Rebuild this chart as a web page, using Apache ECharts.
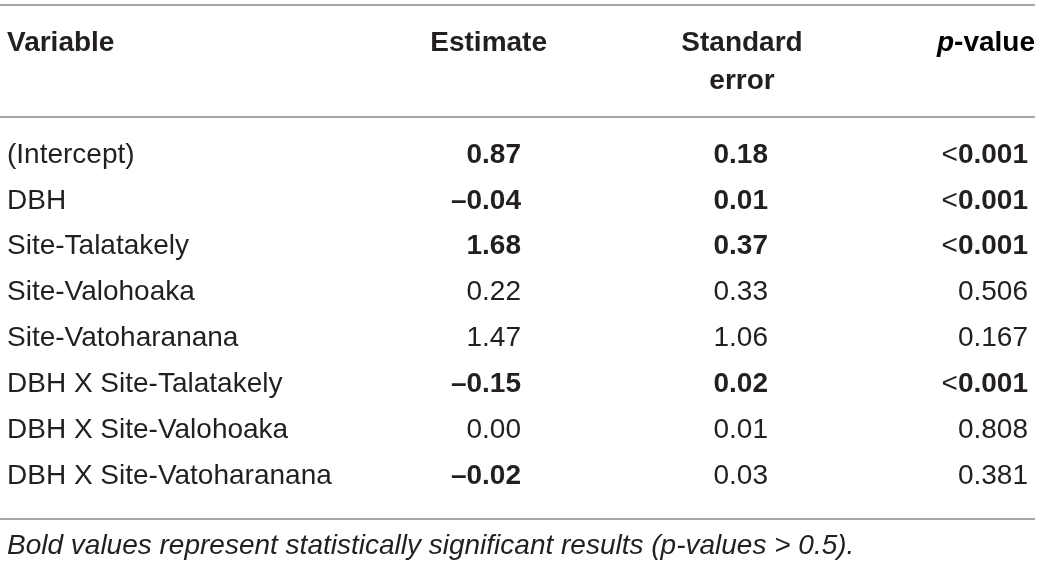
<!DOCTYPE html>
<html>
<head>
<meta charset="utf-8">
<script src="https://cdn.jsdelivr.net/npm/echarts@6/dist/echarts.min.js"></script>
<style>
  html, body { margin: 0; padding: 0; background: #fff; }
  #main { width: 1043px; height: 567px; }
</style>
</head>
<body>
<div id="main"></div>
<script>
// table content
const variables = [
  '(Intercept)', 'DBH', 'Site-Talatakely', 'Site-Valohoaka', 'Site-Vatoharanana',
  'DBH X Site-Talatakely', 'DBH X Site-Valohoaka', 'DBH X Site-Vatoharanana'
]
const estimates = [0.87, -0.04, 1.68, 0.22, 1.47, -0.15, 0.00, -0.02]
const stdErrors = [0.18, 0.01, 0.37, 0.33, 1.06, 0.02, 0.01, 0.03]
const pValues = ['<0.001', '<0.001', '<0.001', '0.506', '0.167', '<0.001', '0.808', '0.381']
const estBold = [true, true, true, false, false, true, false, true]
const seBold = [true, true, true, false, false, true, false, false]
const pBold = [true, true, true, false, false, true, false, false]
const headers = ['Variable', 'Estimate', 'Standard\nerror', 'p-value']
const footnote = 'Bold values represent statistically significant results (p-values > 0.5).'

const FONT = "'Liberation Sans', Arial, Helvetica, sans-serif"
const INK = '#231f20'
const RULE = '#8a8a8a'
const SIZE = 28

const fmt = v => v.toFixed(2).replace('-', '\u2013')

const myChart = echarts.init(document.getElementById('main'))

const rich = {
  r: { fontFamily: FONT, fontSize: SIZE, fontWeight: 'normal', color: INK },
  b: { fontFamily: FONT, fontSize: SIZE, fontWeight: 'bold', color: INK }
}

// wrap a cell value in the right rich style, "<" stays regular
const cell = (txt, bold) => {
  if (!bold) return '{r|' + txt + '}'
  if (txt.charAt(0) === '<') return '{r|<}{b|' + txt.slice(1) + '}'
  return '{b|' + txt + '}'
}

const textEl = (x, y, txt, align) => ({
  type: 'text',
  x: x,
  y: y,
  style: { text: txt, rich: rich, align: align, verticalAlign: 'middle', fill: INK }
})

const option = {
  animation: false,
  grid: { left: 0, right: 0, top: 132, height: 367 },
  xAxis: { type: 'value', min: 0, max: 1043, show: false },
  yAxis: {
    type: 'category',
    data: variables,
    inverse: true,
    show: false
  },
  series: [{
    type: 'custom',
    data: variables.map((v, i) => [i]),
    encode: { y: 0 },
    renderItem: (params, api) => {
      const i = api.value(0)
      const y = api.coord([0, i])[1]
      return {
        type: 'group',
        children: [
          textEl(api.coord([7, i])[0], y, cell(variables[i], false), 'left'),
          textEl(api.coord([521, i])[0], y, cell(fmt(estimates[i]), estBold[i]), 'right'),
          textEl(api.coord([768, i])[0], y, cell(fmt(stdErrors[i]), seBold[i]), 'right'),
          textEl(api.coord([1028, i])[0], y, cell(pValues[i], pBold[i]), 'right')
        ]
      }
    }
  }],
  graphic: [
    { type: 'line', shape: { x1: 0, y1: 5, x2: 1035, y2: 5 }, style: { stroke: RULE, lineWidth: 1.5 } },
    { type: 'line', shape: { x1: 0, y1: 117, x2: 1035, y2: 117 }, style: { stroke: RULE, lineWidth: 1.5 } },
    { type: 'line', shape: { x1: 0, y1: 519, x2: 1035, y2: 519 }, style: { stroke: RULE, lineWidth: 1.5 } },
    { type: 'text', x: 7, y: 43, style: { text: headers[0], font: 'bold ' + SIZE + 'px ' + FONT, fill: INK, verticalAlign: 'middle', align: 'left' } },
    { type: 'text', x: 547, y: 43, style: { text: headers[1], font: 'bold ' + SIZE + 'px ' + FONT, fill: INK, verticalAlign: 'middle', align: 'right' } },
    { type: 'text', x: 742, y: 62, style: { text: headers[2], font: 'bold ' + SIZE + 'px ' + FONT, fill: INK, verticalAlign: 'middle', align: 'center', lineHeight: 38 } },
    {
      type: 'text', x: 1035, y: 43,
      style: {
        text: '{i|p}{n|-value}',
        align: 'right', verticalAlign: 'middle',
        rich: {
          i: { fontFamily: FONT, fontSize: SIZE, fontWeight: 'bold', fontStyle: 'italic', color: INK },
          n: { fontFamily: FONT, fontSize: SIZE, fontWeight: 'bold', color: INK }
        }
      }
    },
    { type: 'text', x: 7, y: 546, style: { text: footnote, font: 'italic ' + SIZE + 'px ' + FONT, fill: INK, verticalAlign: 'middle', align: 'left' } }
  ]
}

myChart.setOption(option)
</script>
</body>
</html>
